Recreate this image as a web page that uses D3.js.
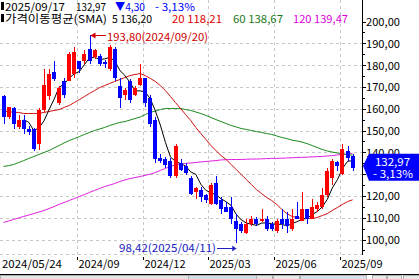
<!DOCTYPE html>
<html>
<head>
<meta charset="utf-8">
<script src="https://cdn.jsdelivr.net/npm/d3@7"></script>
<style>
  body { margin: 0; background: #fff; }
  svg { display: block; font-family: "Noto Sans CJK KR", "DejaVu Sans", sans-serif; }
</style>
</head>
<body>
<svg id="chart" width="419" height="279"></svg>
<script>
"use strict";

/* ── Weekly candles, 2024/05/24 .. 2025/09/17 ─────────────── */
const open = [
  165.6, 156.0, 160.1, 151.8, 155.0, 150.5, 150.5, 143.6, 159.6, 165.6,
  177.0, 162.4, 172.5, 172.5, 176.1, 181.7, 181.7, 187.2, 183.9, 184.0,
  181.2, 178.0, 187.6, 170.2, 166.5, 172.5, 166.5, 171.1, 173.9, 164.7,
  155.0, 137.6, 136.7, 136.2, 128.9, 134.9, 133.5, 128.0, 121.6, 122.5,
  120.6, 116.5, 125.7, 118.3, 115.1, 115.1, 108.3, 106.9, 102.8, 106.9,
  109.2, 108.3, 109.2, 107.3, 103.7, 109.2, 109.2, 104.6, 110.6, 108.7,
  113.8, 109.6, 113.8, 115.1, 120.6, 128.0, 135.5, 130.0, 140.8, 138.1
];
const high = [
  166.5, 161.0, 161.0, 156.9, 157.3, 152.0, 151.0, 160.5, 178.0, 178.0,
  182.0, 170.2, 174.3, 186.0, 188.5, 181.7, 187.0, 193.8, 187.6, 185.3,
  182.5, 189.0, 188.5, 173.9, 169.3, 173.4, 170.2, 180.3, 174.3, 166.5,
  156.4, 139.4, 138.0, 137.2, 143.6, 137.0, 135.3, 128.9, 124.3, 124.3,
  121.1, 125.7, 128.9, 119.7, 117.4, 119.7, 111.5, 107.8, 109.2, 110.6,
  110.1, 113.8, 110.6, 108.0, 109.2, 113.8, 112.8, 113.8, 117.4, 122.0,
  114.2, 118.8, 117.4, 123.4, 132.6, 136.7, 135.8, 143.6, 142.7, 139.0
];
const low = [
  153.2, 155.5, 150.9, 150.5, 148.2, 148.0, 140.4, 141.0, 158.7, 164.0,
  172.5, 161.9, 164.7, 172.5, 174.0, 176.5, 180.5, 180.5, 183.0, 179.8,
  178.5, 177.5, 172.5, 160.1, 164.2, 162.8, 165.6, 170.2, 161.0, 151.8,
  134.9, 134.9, 132.6, 128.0, 128.0, 131.6, 129.8, 120.2, 118.8, 117.4,
  116.9, 116.0, 116.0, 111.9, 112.4, 106.9, 98.42, 102.8, 102.3, 106.0,
  106.4, 108.0, 104.1, 104.0, 102.8, 105.0, 102.8, 104.1, 109.2, 108.3,
  107.3, 109.2, 112.8, 114.2, 119.7, 125.2, 131.6, 129.8, 136.2, 131.6
];
const close = [
  156.0, 160.6, 153.2, 155.0, 150.5, 149.2, 141.7, 159.6, 171.0, 176.1,
  173.4, 169.3, 166.5, 184.9, 186.2, 178.4, 185.3, 181.7, 186.7, 180.3,
  180.3, 188.5, 173.9, 164.7, 168.8, 164.2, 169.3, 173.9, 162.4, 153.2,
  136.7, 136.2, 134.4, 128.9, 142.7, 132.1, 130.3, 121.1, 123.4, 119.7,
  118.3, 124.8, 116.5, 114.2, 112.8, 109.6, 104.6, 103.7, 107.3, 109.6,
  107.3, 109.6, 104.6, 105.0, 108.3, 107.3, 106.0, 109.6, 109.6, 113.8,
  109.6, 114.7, 116.0, 120.6, 131.2, 135.96, 133.5, 141.3, 137.27, 132.97
];

/* ── Moving averages (20 / 60 / 120) ─── */
const sma20 = [
  158.7, 158.7, 158.3, 158.3, 157.8, 157.8, 157.8, 157.8, 158.3, 158.7,
  159.2, 159.6, 160.6, 161.5, 162.8, 164.2, 165.6, 167.0, 168.3, 169.7,
  170.6, 171.6, 172.5, 173.4, 174.3, 175.2, 175.7, 176.1, 175.2, 173.9,
  172.5, 170.6, 168.3, 165.6, 162.8, 160.1, 157.3, 154.6, 151.4, 148.6,
  145.9, 143.1, 140.8, 138.5, 136.7, 134.4, 132.1, 129.8, 127.5, 125.2,
  122.9, 121.1, 119.3, 117.9, 116.1, 113.8, 111.9, 110.6, 110.1, 109.6,
  109.6, 109.6, 110.1, 111.0, 111.9, 113.3, 114.7, 116.1, 117.4, 118.21
];
const sma60 = [
  133.5, 133.9, 134.4, 135.3, 136.2, 137.2, 138.1, 139.0, 139.9, 140.8,
  142.0, 143.1, 144.3, 145.4, 146.3, 147.2, 148.2, 149.1, 150.0, 150.7,
  151.4, 152.3, 153.0, 153.7, 154.1, 154.8, 155.5, 156.2, 157.3, 158.3,
  158.9, 159.6, 160.1, 160.1, 160.1, 160.1, 159.6, 159.2, 158.5, 157.8,
  156.9, 156.0, 155.0, 154.1, 153.2, 152.3, 151.6, 150.9, 150.5, 150.0,
  149.5, 149.1, 148.6, 148.2, 147.5, 146.8, 146.3, 145.6, 145.2, 144.7,
  144.0, 143.1, 142.2, 141.3, 140.6, 140.1, 139.7, 139.2, 139.0, 138.67
];
const sma120 = [
  107.8, 108.5, 109.2, 109.9, 110.6, 111.2, 111.9, 112.6, 113.3, 114.2,
  115.1, 116.1, 117.0, 117.9, 118.8, 119.7, 120.6, 121.6, 122.5, 123.4,
  124.3, 125.0, 125.7, 126.6, 127.3, 128.0, 128.4, 128.9, 129.4, 130.0,
  130.7, 131.7, 132.6, 133.5, 134.2, 134.6, 134.9, 135.1, 135.3, 135.6,
  135.8, 136.0, 136.2, 136.5, 136.6, 136.7, 136.7, 136.7, 136.8, 136.9,
  136.9, 137.0, 137.1, 137.2, 137.2, 137.3, 137.4, 137.5, 137.6, 137.7,
  137.8, 137.9, 138.0, 138.1, 138.3, 138.5, 138.8, 139.0, 139.2, 139.47
];

/* ── Axis labels ──────────────────────────────────────────── */
const yTicks      = [100, 110, 120, 130, 140, 150, 160, 170, 180, 190, 200];
const yLabelled   = [100, 110, 120, 140, 150, 160, 170, 180, 190, 200]; // 130 sits under the price tag
const xTickIdx    = [15, 28, 41, 54, 67];
const xTickLabels = ["2024/09", "2024/12", "2025/03", "2025/06", "2025/09"];
const firstLabel  = "2024/05/24";

const UP = "#ff0000", DOWN = "#0000ff";
const fmt = (v) => d3.format(".2f")(v).replace(".", ",");

/* ── Layout ───────────────────────────────────────────────── */
const PLOT_R = 362, PLOT_B = 254;
const svg = d3.select("#chart");
const x = d3.scaleLinear().domain([0, 69]).range([3.5, 352.6]);
const y = d3.scaleLinear().domain([100, 200]).range([239.5, 21.5]);

/* Gridlines */
const grid = svg.append("g")
  .attr("stroke", "#c8c8c8").attr("stroke-dasharray", "3,3")
  .attr("shape-rendering", "crispEdges");
grid.selectAll(".hg").data(yTicks.slice(0, -1)).join("line")
  .attr("x1", 0).attr("x2", PLOT_R)
  .attr("y1", (d) => Math.round(y(d)) + 0.5).attr("y2", (d) => Math.round(y(d)) + 0.5);
grid.selectAll(".vg").data(xTickIdx).join("line")
  .attr("x1", (d) => Math.round(x(d) - 2.5) + 0.5).attr("x2", (d) => Math.round(x(d) - 2.5) + 0.5)
  .attr("y1", 0).attr("y2", PLOT_B);
grid.append("line").attr("x1", 0).attr("x2", PLOT_R)
  .attr("y1", PLOT_B + 0.5).attr("y2", PLOT_B + 0.5);

/* Moving averages */
const idx = d3.range(close.length);
const sma5 = idx.map((i) => (i < 4 ? null : d3.mean(close.slice(i - 4, i + 1))));
const line = d3.line().defined((d) => d[1] != null).x((d) => x(d[0])).y((d) => y(d[1]));
[[sma120, "#e020e0"], [sma60, "#1a8a1a"], [sma20, "#d01010"], [sma5, "#000"]].forEach(([s, c]) => {
  svg.append("path").datum(idx.map((i) => [i, s[i]]))
    .attr("d", line).attr("fill", "none").attr("stroke", c).attr("stroke-width", 1);
});

/* Candles */
const candles = svg.append("g").attr("shape-rendering", "crispEdges");
const cg = candles.selectAll("g").data(idx).join("g");
cg.append("line")
  .attr("x1", (i) => Math.round(x(i)) + 0.5).attr("x2", (i) => Math.round(x(i)) + 0.5)
  .attr("y1", (i) => y(high[i])).attr("y2", (i) => y(low[i]))
  .attr("stroke", (i) => (close[i] >= open[i] ? UP : DOWN));
cg.append("rect")
  .attr("x", (i) => Math.round(x(i)) - 2)
  .attr("width", 4)
  .attr("y", (i) => Math.round(y(Math.max(open[i], close[i]))))
  .attr("height", (i) => Math.max(1, Math.round(y(Math.min(open[i], close[i]))) - Math.round(y(Math.max(open[i], close[i])))))
  .attr("fill", (i) => (close[i] >= open[i] ? UP : DOWN));

/* High / low annotations */
const hiI = high.indexOf(d3.max(high)), loI = low.indexOf(d3.min(low));
const hy = Math.round(y(high[hiI])) + 0.5;
svg.append("line").attr("x1", x(hiI) + 1).attr("x2", 106).attr("y1", hy).attr("y2", hy).attr("stroke", "#d00000");
svg.append("path").attr("d", `M${x(hiI) + 1},${hy} l5,-3 v6 z`).attr("fill", "#d00000");
svg.append("text").attr("x", 107).attr("y", 41).attr("font-size", 11).attr("fill", "#d00000")
  .attr("textLength", 101).attr("lengthAdjust", "spacingAndGlyphs")
  .text(`${fmt(high[hiI])}(2024/09/20)`);
const ly = Math.round(y(low[loI])) + 5.5;
svg.append("line").attr("x1", 217).attr("x2", x(loI)).attr("y1", ly).attr("y2", ly).attr("stroke", "#2020c0");
svg.append("path").attr("d", `M${x(loI)},${ly} l-4,-3 v6 z`).attr("fill", "#2020c0");
svg.append("text").attr("x", 119).attr("y", 252).attr("font-size", 11).attr("fill", "#2020c0")
  .attr("textLength", 97).attr("lengthAdjust", "spacingAndGlyphs")
  .text(`${fmt(low[loI])}(2025/04/11)`);

/* Right price axis */
svg.append("line").attr("x1", PLOT_R + 0.5).attr("x2", PLOT_R + 0.5).attr("y1", 0).attr("y2", PLOT_B + 1)
  .attr("stroke", "#000");
const ya = svg.append("g").attr("shape-rendering", "crispEdges");
ya.selectAll(".tk").data(d3.range(95, 205, 5)).join("line")
  .attr("x1", PLOT_R).attr("x2", (d) => PLOT_R + (d % 10 === 0 ? 4 : 3))
  .attr("y1", (d) => Math.round(y(d)) + 0.5).attr("y2", (d) => Math.round(y(d)) + 0.5)
  .attr("stroke", "#000");
ya.selectAll("text").data(yLabelled).join("text")
  .attr("x", 366).attr("y", (d) => y(d) + 4.5)
  .attr("font-size", 11).attr("fill", "#000")
  .attr("textLength", 34).attr("lengthAdjust", "spacingAndGlyphs")
  .text((d) => fmt(d));

/* Current price tag */
const last = close[close.length - 1], prev = close[close.length - 2];
const ty = y(last);
svg.append("path")
  .attr("d", `M${PLOT_R + 1},${ty - 2} L369,${ty - 14} H419 V${ty + 13} H369 Z`)
  .attr("fill", "#0000ff");
svg.append("text").attr("x", 375).attr("y", ty - 2).attr("font-size", 11).attr("fill", "#fff")
  .attr("textLength", 35).attr("lengthAdjust", "spacingAndGlyphs").text(fmt(last));
svg.append("text").attr("x", 373).attr("y", ty + 10).attr("font-size", 11).attr("fill", "#fff")
  .attr("textLength", 40).attr("lengthAdjust", "spacingAndGlyphs")
  .text(`- ${fmt(Math.abs((last - prev) / prev * 100))}%`);

/* Date axis */
const xa = svg.append("g").attr("font-size", 11).attr("fill", "#000");
xa.append("text").attr("x", 2).attr("y", 268)
  .attr("textLength", 60).attr("lengthAdjust", "spacingAndGlyphs").text(firstLabel);
xTickIdx.forEach((d, k) => {
  const tx = Math.round(x(d) - 2.5) + 0.5;
  xa.append("line").attr("x1", tx).attr("x2", tx).attr("y1", 257).attr("y2", 260)
    .attr("stroke", "#000");
  xa.append("text").attr("x", tx + 1).attr("y", 268)
    .attr("textLength", 41).attr("lengthAdjust", "spacingAndGlyphs").text(xTickLabels[k]);
});
svg.append("line").attr("x1", 0).attr("x2", 419).attr("y1", 274.5).attr("y2", 274.5)
  .attr("stroke", "#000");

/* Bottom scroll strip */
const strip = svg.append("g").attr("shape-rendering", "crispEdges");
[[0, 188, "#e4e4e4"], [188, 68, "#d4dce4"], [256, 16, "#e4e4e4"], [273, 26, "#e8e8e8"],
 [300, 66, "#d8e0ec"], [372, 14, "#e8e8e8"], [387, 14, "#e8e8e8"], [403, 16, "#e8e8e8"]]
  .forEach(([sx, sw, c]) => {
    strip.append("rect").attr("x", sx).attr("y", 275).attr("width", sw).attr("height", 4)
      .attr("fill", c).attr("stroke", "#b0b0b0");
  });

/* Header legend */
const head = [
  [10.5, 5, 60, "2025/09/17", "#000"],
  [10.5, 76, 30, fmt(last), "#000"],
  [10.5, 115, 30, `▼${fmt(prev - last)}`, "#0000ff"],
  [10.5, 155, 40, `- ${fmt((prev - last) / prev * 100)}%`, "#0000ff"],
  [23, 5, 102, "가격이동평균(SMA)", "#000"],
  [23, 112, 40, `5 ${fmt(sma5[sma5.length - 1])}`, "#000"],
  [23, 172, 50, `20 ${fmt(sma20[sma20.length - 1])}`, "#e00000"],
  [23, 233, 50, `60 ${fmt(sma60[sma60.length - 1])}`, "#1a7a1a"],
  [23, 293, 55, `120 ${fmt(sma120[sma120.length - 1])}`, "#e000e0"]
];
svg.selectAll(".hd").data(head).join("text")
  .attr("x", (d) => d[1]).attr("y", (d) => d[0])
  .attr("font-size", 11).attr("fill", (d) => d[4])
  .attr("textLength", (d) => d[2]).attr("lengthAdjust", "spacingAndGlyphs")
  .text((d) => d[3]);
svg.selectAll(".mk").data([2, 14]).join("rect")
  .attr("x", 1).attr("y", (d) => d).attr("width", 3).attr("height", 8).attr("fill", "#000");
</script>
</body>
</html>
